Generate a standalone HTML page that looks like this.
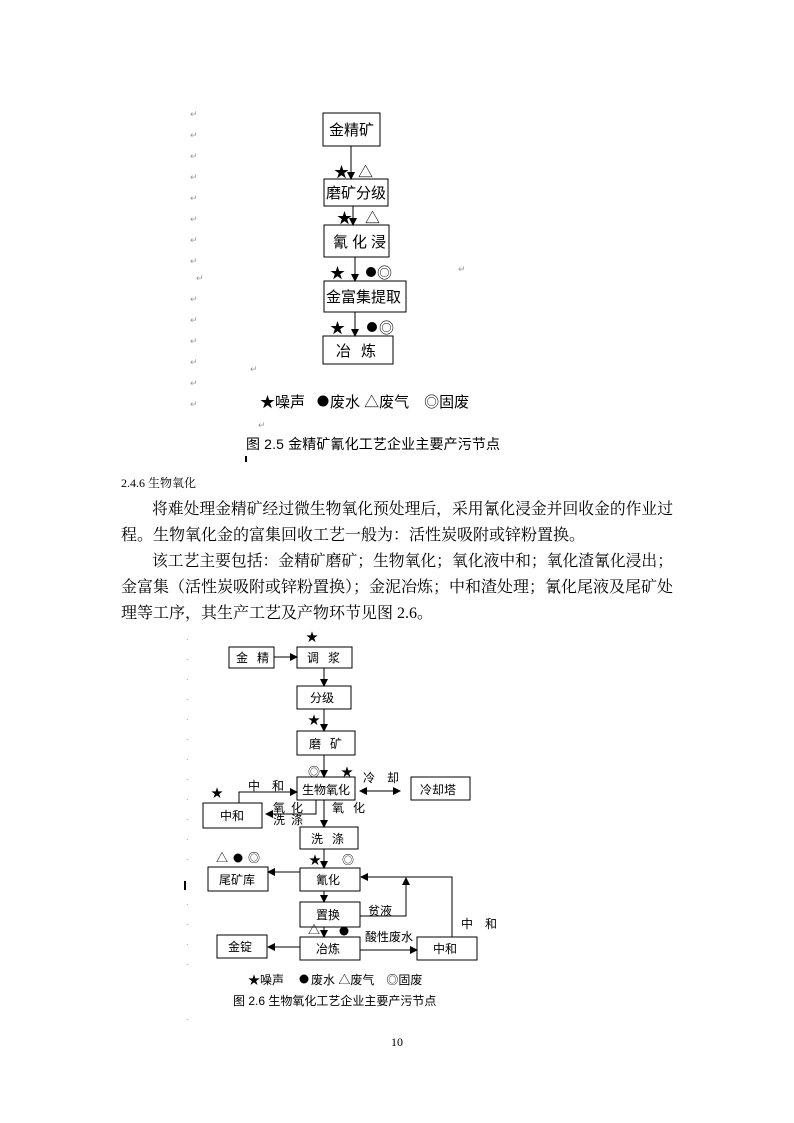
<!DOCTYPE html>
<html><head><meta charset="utf-8"><style>
html,body{margin:0;padding:0;background:#fff}
svg{display:block}
.s{font-family:"Liberation Sans","Noto Sans CJK SC",sans-serif;fill:#000}
.r{font-family:"Liberation Serif","Noto Serif CJK SC",serif;fill:#000}
.m{fill:#999;font-size:9px;font-family:"Liberation Sans",sans-serif}
</style></head><body>
<svg width="794" height="1123" viewBox="0 0 794 1123" xmlns="http://www.w3.org/2000/svg">
<defs><marker id="a" markerWidth="8" markerHeight="8" refX="7" refY="4" orient="auto-start-reverse" markerUnits="userSpaceOnUse"><path d="M0,0 L8,4 L0,8z" fill="#000"/></marker></defs>
<g class="m">
<text x="190" y="117">↵</text><text x="190" y="138">↵</text><text x="190" y="159">↵</text><text x="190" y="180">↵</text><text x="190" y="201">↵</text><text x="190" y="222">↵</text><text x="190" y="243">↵</text><text x="190" y="264">↵</text><text x="196" y="281">↵</text><text x="190" y="302">↵</text><text x="190" y="323">↵</text><text x="190" y="344">↵</text><text x="190" y="365">↵</text><text x="190" y="386">↵</text><text x="190" y="407">↵</text><text x="250" y="372">↵</text><text x="458" y="272">↵</text><text x="258" y="428">↵</text>
</g>
<g fill="none" stroke="#000" stroke-width="1">
<rect x="323" y="113" width="57" height="33"/>
<rect x="324" y="179" width="64" height="27"/>
<rect x="324" y="225" width="65" height="32"/>
<rect x="324" y="281" width="82" height="31"/>
<rect x="323" y="336" width="70" height="28"/>
<line x1="351" y1="146" x2="351" y2="179" marker-end="url(#a)"/>
<line x1="353" y1="206" x2="353" y2="225" marker-end="url(#a)"/>
<line x1="355" y1="257" x2="355" y2="281" marker-end="url(#a)"/>
<line x1="355" y1="312" x2="355" y2="336" marker-end="url(#a)"/>
</g>
<g fill="#000">
<circle cx="371" cy="272" r="5"/><circle cx="372" cy="327" r="5"/>
<circle cx="323" cy="401" r="5.5"/>
<circle cx="304" cy="979" r="4.5"/>
<circle cx="238" cy="858" r="4.5"/><circle cx="344" cy="931" r="4.5"/>
</g>
<g class="s" font-size="15">
<text x="329" y="135">金精矿</text>
<text x="326" y="198">磨矿分级</text>
<text x="333" y="247" letter-spacing="4">氰化浸</text>
<text x="326" y="302">金富集提取</text>
<text x="336" y="356" letter-spacing="10">冶炼</text>
<text x="334" y="177">★</text><text x="358" y="177">△</text>
<text x="337" y="223">★</text><text x="365" y="223">△</text>
<text x="330" y="278">★</text><text x="377" y="278">◎</text>
<text x="330" y="333">★</text><text x="379" y="333">◎</text>
<text x="260" y="407">★噪声</text>
<text x="330" y="407">废水 △废气　◎固废</text>
<text x="246" y="449" font-size="14" textLength="254">图 2.5 金精矿氰化工艺企业主要产污节点</text>
</g>
<rect x="245" y="456" width="2" height="6" fill="#000"/>
<text class="r" x="121" y="487" font-size="12">2.4.6 生物氧化</text>
<g class="r" font-size="16">
<text x="152" y="514" textLength="521" lengthAdjust="spacingAndGlyphs">将难处理金精矿经过微生物氧化预处理后，采用氰化浸金并回收金的作业过</text>
<text x="121" y="540">程。生物氧化金的富集回收工艺一般为：活性炭吸附或锌粉置换。</text>
<text x="152" y="566" textLength="521" lengthAdjust="spacingAndGlyphs">该工艺主要包括：金精矿磨矿；生物氧化；氧化液中和；氧化渣氰化浸出；</text>
<text x="121" y="592" textLength="552" lengthAdjust="spacingAndGlyphs">金富集（活性炭吸附或锌粉置换）；金泥冶炼；中和渣处理；氰化尾液及尾矿处</text>
<text x="121" y="618">理等工序，其生产工艺及产物环节见图 2.6。</text>
</g>
<g class="m"><text x="186" y="640">.</text><text x="186" y="660">.</text><text x="186" y="680">.</text><text x="186" y="700">.</text><text x="186" y="720">.</text><text x="186" y="740">.</text><text x="186" y="760">.</text><text x="186" y="780">.</text><text x="186" y="800">.</text><text x="186" y="820">.</text><text x="186" y="840">.</text><text x="186" y="860">.</text><text x="186" y="905">.</text><text x="186" y="925">.</text><text x="186" y="945">.</text><text x="186" y="965">.</text><text x="186" y="1020">.</text></g>
<rect x="184" y="881" width="2" height="9" fill="#000"/>
<g fill="none" stroke="#000" stroke-width="1">
<rect x="229" y="647" width="45" height="21"/>
<rect x="297" y="647" width="55" height="21"/>
<rect x="297" y="686" width="54" height="23"/>
<rect x="297" y="731" width="58" height="24"/>
<rect x="297" y="777" width="58" height="23"/>
<rect x="411" y="777" width="59" height="23"/>
<rect x="203" y="803" width="59" height="25"/>
<rect x="300" y="827" width="58" height="22"/>
<rect x="300" y="868" width="60" height="23"/>
<rect x="208" y="867" width="60" height="24"/>
<rect x="300" y="902" width="60" height="25"/>
<rect x="300" y="937" width="60" height="23"/>
<rect x="417" y="937" width="60" height="23"/>
<rect x="217" y="935" width="50" height="23"/>
<line x1="274" y1="657" x2="297" y2="657" marker-end="url(#a)"/>
<line x1="324" y1="668" x2="324" y2="686" marker-end="url(#a)"/>
<line x1="324" y1="709" x2="324" y2="731" marker-end="url(#a)"/>
<line x1="324" y1="755" x2="324" y2="777" marker-end="url(#a)"/>
<line x1="360" y1="791" x2="400" y2="791" marker-start="url(#a)" marker-end="url(#a)"/>
<polyline points="239,803 239,792 297,792" marker-end="url(#a)"/>
<polyline points="316,800 316,814 266,814" marker-end="url(#a)"/>
<line x1="324" y1="800" x2="324" y2="827" marker-end="url(#a)"/>
<line x1="324" y1="849" x2="324" y2="868" marker-end="url(#a)"/>
<line x1="300" y1="872" x2="268" y2="872" marker-end="url(#a)"/>
<line x1="324" y1="891" x2="324" y2="902" marker-end="url(#a)"/>
<line x1="324" y1="927" x2="324" y2="937" marker-end="url(#a)"/>
<line x1="300" y1="947" x2="268" y2="947" marker-end="url(#a)"/>
<line x1="360" y1="950" x2="417" y2="950" marker-end="url(#a)"/>
<polyline points="452,937 452,877 361,877" marker-end="url(#a)"/>
<polyline points="360,916 406,916 406,878" marker-end="url(#a)"/>
</g>
<g class="s" font-size="12">
<text x="236" y="662" letter-spacing="9">金精</text>
<text x="307" y="662" letter-spacing="9">调浆</text>
<text x="310" y="702">分级</text>
<text x="309" y="748" letter-spacing="9">磨矿</text>
<text x="302" y="794">生物氧化</text>
<text x="420" y="794">冷却塔</text>
<text x="220" y="820">中和</text>
<text x="311" y="843" letter-spacing="9">洗涤</text>
<text x="316" y="884">氰化</text>
<text x="219" y="884">尾矿库</text>
<text x="316" y="919">置换</text>
<text x="316" y="953">冶炼</text>
<text x="433" y="953">中和</text>
<text x="228" y="951">金锭</text>
<text x="306" y="641">★</text>
<text x="308" y="724">★</text>
<text x="308" y="776">◎</text><text x="341" y="776">★</text>
<text x="363" y="782" letter-spacing="12">冷却</text>
<text x="211" y="797">★</text>
<text x="248" y="790" letter-spacing="12">中和</text>
<text x="273" y="812" letter-spacing="6">氧化</text>
<text x="273" y="824" letter-spacing="6">洗涤</text>
<text x="332" y="812" letter-spacing="9">氧化</text>
<text x="216" y="862">△</text><text x="248" y="862">◎</text>
<text x="309" y="864">★</text><text x="342" y="864">◎</text>
<text x="368" y="915">贫液</text>
<text x="461" y="928" letter-spacing="12">中和</text>
<text x="308" y="934">△</text>
<text x="365" y="941">酸性废水</text>
<text x="248" y="984">★噪声</text>
<text x="311" y="984">废水 △废气　◎固废</text>
<text x="233" y="1005">图 2.6 生物氧化工艺企业主要产污节点</text>
</g>
<text class="r" x="391" y="1046" font-size="12">10</text>
</svg>
</body></html>
